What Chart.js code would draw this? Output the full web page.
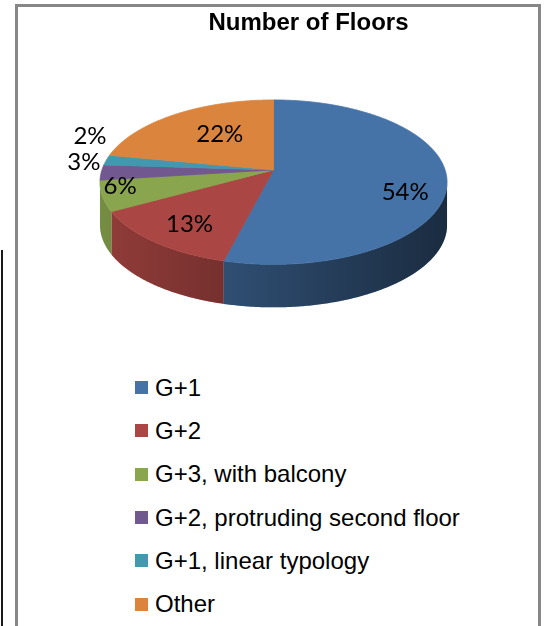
<!DOCTYPE html>
<html>
<head>
<meta charset="utf-8">
<title>Number of Floors</title>
<script src="https://cdn.jsdelivr.net/npm/chart.js@4.4.0/dist/chart.umd.min.js"></script>
<style>
  body { margin: 0; background: #fff; width: 546px; height: 626px; overflow: hidden; position: relative; }
  #frame { position: absolute; left: 15px; top: 4px; width: 520px; height: 640px; border: 3px solid #878787; border-bottom: none; }
  #edge { position: absolute; left: 1px; top: 250px; width: 2px; height: 400px; background: #1a1a1a; }
  #pie { position: absolute; left: 18px; top: 7px; }
  #legend { position: absolute; left: 135px; top: 366px; font: 24px "Liberation Sans", Arial, sans-serif; color: #000; }
  #legend .row { display: flex; align-items: center; height: 43.3px; white-space: nowrap; }
  #legend .box { width: 13px; height: 13px; margin-right: 7px; }
</style>
</head>
<body>
<div id="edge"></div>
<div id="frame"></div>
<canvas id="pie" width="520" height="355"></canvas>
<div id="legend"></div>

<script>
const floorTypes = ['G+1', 'G+2', 'G+3, with balcony', 'G+2, protruding second floor', 'G+1, linear typology', 'Other'];
const floorShares = [54, 13, 6, 3, 2, 22];
const sliceColors = ['#4572A7', '#AA4643', '#89A54E', '#71588F', '#4198AF', '#DB843D'];

// inside labels: fraction of the radius and a small turn (deg) past the slice middle
const labelRadius = [0.785, 0.76, 0.89, 0, 0, 0.575];
const labelTurn = [13, -2, 5, 0, 0, 4];

function pieGeometry(arc, opts) {
    return {
        cx: arc.x + opts.shiftX,
        cy: arc.y,
        a: arc.outerRadius * opts.stretch,
        b: arc.outerRadius * opts.tilt,
        p: opts.perspective,
        depth: opts.depth
    };
}

// point of the tilted disc at angle t and radius fraction r; near side is drawn larger
function project(g, t, r, drop) {
    const u = r * Math.cos(t);
    const v = r * Math.sin(t);
    const w = 1 - g.p * v;
    return [g.cx + g.a * u / w, g.cy + g.b * v / w + (drop ? g.depth : 0)];
}

function rim(ctx, g, from, to, drop, start) {
    const n = Math.max(2, Math.ceil(Math.abs(to - from) / 0.01));
    for (let k = 0; k <= n; k++) {
        const [x, y] = project(g, from + (to - from) * k / n, 1, drop);
        if (k === 0 && start) ctx.moveTo(x, y);
        else ctx.lineTo(x, y);
    }
}

function wallPath(ctx, g, from, to) {
    ctx.beginPath();
    rim(ctx, g, from, to, false, true);
    rim(ctx, g, to, from, true, false);
    ctx.closePath();
}

const pie3d = {
    id: 'pie3d',
    beforeDatasetDraw(chart, args, opts) {
        const arcs = args.meta.data;
        const ctx = chart.ctx;
        const g = pieGeometry(arcs[0], opts);
        const colors = chart.data.datasets[0].backgroundColor;
        // visible part of the side wall, between the left and right silhouette
        const right = Math.asin(g.p);
        const left = Math.PI - right;

        ctx.save();
        arcs.forEach((arc, i) => {
            const from = Math.max(arc.startAngle, right);
            const to = Math.min(arc.endAngle, left);
            if (to <= from) return;
            wallPath(ctx, g, from, to);
            ctx.fillStyle = colors[i];
            ctx.fill();
        });
        const x0 = project(g, left, 1, false)[0];
        const x1 = project(g, right, 1, false)[0];
        const shade = ctx.createLinearGradient(x0, 0, x1, 0);
        shade.addColorStop(0, 'rgba(0,0,0,0.14)');
        shade.addColorStop(1, 'rgba(0,0,0,0.62)');
        wallPath(ctx, g, right, left);
        ctx.fillStyle = shade;
        ctx.fill();

        // top face
        arcs.forEach((arc, i) => {
            ctx.beginPath();
            ctx.moveTo(g.cx, g.cy);
            rim(ctx, g, arc.startAngle, arc.endAngle, false, false);
            ctx.closePath();
            ctx.fillStyle = colors[i];
            ctx.strokeStyle = colors[i];
            ctx.lineWidth = 0.8;
            ctx.fill();
            ctx.stroke();
        });
        ctx.restore();
        return false;
    },
    afterDatasetsDraw(chart, args, opts) {
        const ctx = chart.ctx;
        const arcs = chart.getDatasetMeta(0).data;
        const values = chart.data.datasets[0].data;
        const total = values.reduce((s, v) => s + v, 0);
        const g = pieGeometry(arcs[0], opts);

        ctx.save();
        ctx.font = '24px Lato';
        ctx.fillStyle = '#000';
        ctx.textAlign = 'center';
        ctx.textBaseline = 'middle';
        let lastOutside = null;
        arcs.forEach((arc, i) => {
            const share = values[i] / total * 100;
            const mid = (arc.startAngle + arc.endAngle) / 2;
            let x, y;
            if (share >= 5) {
                [x, y] = project(g, mid + labelTurn[i] * Math.PI / 180, labelRadius[i], false);
            } else {
                // small slices get their label outside, pushed up if it would overlap
                [x, y] = project(g, mid, 1.1, false);
                y -= 10;
                if (lastOutside !== null && Math.abs(y - lastOutside) < 26) y = lastOutside - 26;
                lastOutside = y;
            }
            ctx.fillText(Math.round(share) + '%', x, y);
        });
        ctx.restore();
    }
};

const chart = new Chart(document.getElementById('pie'), {
    type: 'pie',
    data: {
        labels: floorTypes,
        datasets: [{
            data: floorShares,
            backgroundColor: sliceColors,
            borderWidth: 0,
            clip: false
        }]
    },
    options: {
        responsive: false,
        animation: false,
        layout: { padding: { left: 61, bottom: 69 } },
        plugins: {
            title: {
                display: true,
                text: 'Number of Floors',
                color: '#000',
                font: { family: 'Liberation Sans', size: 24, weight: 'bold' },
                padding: { top: 2, bottom: 9 }
            },
            legend: { display: false },
            tooltip: { enabled: false },
            pie3d: { shiftX: -35, stretch: 1.394, tilt: 0.653, perspective: 0.149, depth: 43 }
        }
    },
    plugins: [pie3d]
});

// legend list, one entry per line
const legendBox = document.getElementById('legend');
chart.options.plugins.legend.labels.generateLabels(chart).forEach(item => {
    const row = document.createElement('div');
    row.className = 'row';
    const box = document.createElement('span');
    box.className = 'box';
    box.style.background = item.fillStyle;
    const text = document.createElement('span');
    text.textContent = item.text;
    row.appendChild(box);
    row.appendChild(text);
    legendBox.appendChild(row);
});
</script>
</body>
</html>
